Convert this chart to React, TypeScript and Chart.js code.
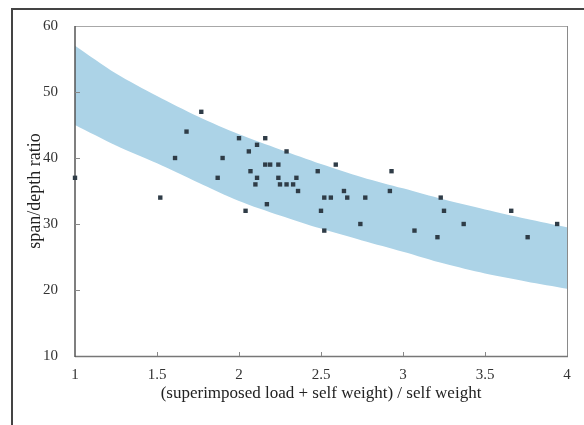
import React, { useEffect, useRef } from 'react';
import { Chart, registerables } from 'chart.js';

Chart.register(...registerables);

// Observed data points
const pointX = [1.0, 1.52, 1.61, 1.68, 1.77, 1.87, 1.9, 2.0, 2.04, 2.06, 2.07, 2.1, 2.11, 2.11, 2.16, 2.16, 2.19, 2.17, 2.24, 2.24, 2.25, 2.29, 2.29, 2.33, 2.35, 2.36, 2.48, 2.5, 2.52, 2.56, 2.52, 2.59, 2.64, 2.66, 2.74, 2.77, 2.92, 2.93, 3.07, 3.21, 3.23, 3.25, 3.37, 3.66, 3.76, 3.94];
const pointY = [37, 34, 40, 44, 47, 37, 40, 43, 32, 41, 38, 36, 42, 37, 43, 39, 39, 33, 39, 37, 36, 36, 41, 36, 37, 35, 38, 32, 34, 34, 29, 39, 35, 34, 30, 34, 35, 38, 29, 28, 34, 32, 30, 32, 28, 30];

// Shaded band (upper and lower limits)
const bandX = [1, 1.25, 1.5, 1.75, 2, 2.25, 2.5, 2.75, 3, 3.25, 3.5, 3.75, 4];
const bandUpper = [57.0, 52.8, 49.4, 46.3, 43.6, 41.3, 39.1, 37.1, 35.4, 33.7, 32.2, 30.8, 29.5];
const bandLower = [45.0, 41.9, 39.2, 36.3, 33.5, 31.3, 29.3, 27.5, 25.8, 24.0, 22.5, 21.3, 20.2];

// Axis ticks
const xTicks = [1, 1.5, 2, 2.5, 3, 3.5, 4];
const yTicks = [10, 20, 30, 40, 50, 60];

const xTitle = '(superimposed load + self weight) / self weight';
const yTitle = 'span/depth ratio';

const SERIF = '"Liberation Serif", "Times New Roman", serif';

function drawFrame(chart: any) {
  const ctx = chart.ctx;
  const xs = chart.scales.x;
  const ys = chart.scales.y;
  const l = xs.getPixelForValue(1);
  const r = xs.getPixelForValue(4);
  const t = ys.getPixelForValue(60);
  const b = ys.getPixelForValue(10);
  ctx.save();
  ctx.lineWidth = 1;
  ctx.strokeStyle = '#a8a8a8';
  ctx.beginPath();
  ctx.moveTo(l, t + 0.5);
  ctx.lineTo(r, t + 0.5);
  ctx.stroke();
  ctx.strokeStyle = '#8a8a8a';
  ctx.beginPath();
  ctx.moveTo(r + 0.5, t);
  ctx.lineTo(r + 0.5, b);
  ctx.stroke();
  ctx.strokeStyle = '#777';
  ctx.lineWidth = 1.3;
  ctx.beginPath();
  ctx.moveTo(l, b + 0.5);
  ctx.lineTo(r + 1, b + 0.5);
  ctx.stroke();
  ctx.strokeStyle = '#555';
  ctx.lineWidth = 1.5;
  ctx.beginPath();
  ctx.moveTo(l, t);
  ctx.lineTo(l, b + 1);
  ctx.stroke();
  ctx.strokeStyle = '#888';
  ctx.lineWidth = 1;
  xTicks.slice(1, -1).forEach((v) => {
    const px = Math.round(xs.getPixelForValue(v)) + 0.5;
    ctx.beginPath();
    ctx.moveTo(px, b);
    ctx.lineTo(px, b - 4);
    ctx.stroke();
  });
  yTicks.slice(1, -1).forEach((v) => {
    const py = Math.round(ys.getPixelForValue(v)) + 0.5;
    ctx.beginPath();
    ctx.moveTo(l, py);
    ctx.lineTo(l + 5, py);
    ctx.stroke();
  });
  ctx.strokeStyle = '#444';
  ctx.lineWidth = 2;
  ctx.beginPath();
  ctx.moveTo(12, chart.height);
  ctx.lineTo(12, 9);
  ctx.lineTo(chart.width, 9);
  ctx.stroke();
  ctx.restore();
}

const framePlugin = {
  id: 'framePlugin',
  afterDatasetDraw(chart: any, args: any) {
    if (args.index === 1) drawFrame(chart);
  },
};

export default function App() {
  const ref = useRef<HTMLCanvasElement | null>(null);

  useEffect(() => {
    if (!ref.current) return;
    const chart = new Chart(ref.current, {
      type: 'scatter',
      data: {
        datasets: [
          {
            label: 'lower',
            data: bandX.map((x, i) => ({ x, y: bandLower[i] })),
            showLine: true,
            borderWidth: 0,
            borderColor: 'rgba(0,0,0,0)',
            pointRadius: 0,
            tension: 0.3,
            fill: false,
            order: 2,
          },
          {
            label: 'upper',
            data: bandX.map((x, i) => ({ x, y: bandUpper[i] })),
            showLine: true,
            borderWidth: 0,
            borderColor: 'rgba(0,0,0,0)',
            backgroundColor: '#acd3e7',
            pointRadius: 0,
            tension: 0.3,
            fill: '-1',
            order: 1,
          },
          {
            label: 'data',
            data: pointX.map((x, i) => ({ x, y: pointY[i] })),
            pointStyle: 'rect',
            pointRadius: 3.1,
            pointBackgroundColor: '#2f3c47',
            pointBorderWidth: 0,
            clip: false,
            order: 0,
          },
        ],
      },
      options: {
        animation: false,
        responsive: false,
        devicePixelRatio: 1,
        layout: { padding: { left: 0, right: 17, top: 23, bottom: 0 } },
        plugins: {
          legend: { display: false },
          tooltip: { enabled: false },
        },
        scales: {
          x: {
            type: 'linear',
            min: 1,
            max: 4,
            afterBuildTicks: (s: any) => {
              s.ticks = xTicks.map((v) => ({ value: v }));
            },
            afterFit: (s: any) => {
              s.height = 69;
            },
            grid: { display: false, drawTicks: false },
            border: { display: false },
            ticks: {
              padding: 10,
              color: '#333',
              font: { family: SERIF, size: 15 },
              callback: (v: any) => String(v),
              maxRotation: 0,
              autoSkip: false,
            },
            title: {
              display: true,
              text: xTitle,
              color: '#222',
              font: { family: SERIF, size: 17 },
              padding: { top: 0, bottom: 21 },
            },
          },
          y: {
            type: 'linear',
            min: 10,
            max: 60,
            afterBuildTicks: (s: any) => {
              s.ticks = yTicks.map((v) => ({ value: v }));
            },
            afterFit: (s: any) => {
              s.width = 75;
            },
            grid: { display: false, drawTicks: false },
            border: { display: false },
            ticks: {
              padding: 17,
              color: '#333',
              font: { family: SERIF, size: 15 },
              callback: (v: any) => String(v),
            },
            title: {
              display: true,
              text: yTitle,
              color: '#222',
              font: { family: SERIF, size: 18 },
              padding: { top: 24, bottom: 0 },
            },
          },
        },
      },
      plugins: [framePlugin],
    });
    return () => chart.destroy();
  }, []);

  return (
    <div style={{ position: 'fixed', left: 0, top: 0, width: 584, height: 425, background: '#fff' }}>
      <canvas ref={ref} width={584} height={425} style={{ width: 584, height: 425, display: 'block' }} />
    </div>
  );
}
